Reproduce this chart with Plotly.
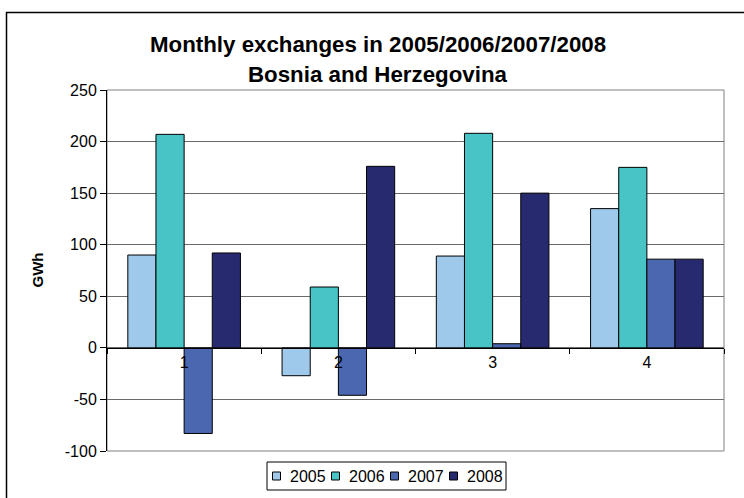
import plotly.graph_objects as go

# Monthly exchanges, GWh
months = ["1", "2", "3", "4"]
years = ["2005", "2006", "2007", "2008"]
v2005 = [90, -27, 89, 135]
v2006 = [207, 59, 208, 175]
v2007 = [-83, -46, 4, 86]
v2008 = [92, 176, 150, 86]
series = [v2005, v2006, v2007, v2008]
colors = ["#9FC9EB", "#48C3C6", "#4A67B0", "#282A70"]

y_ticks = [-100, -50, 0, 50, 100, 150, 200, 250]
y_ticktext = [str(v) for v in y_ticks]
y_min, y_max = -100, 250

title_1 = "Monthly exchanges in 2005/2006/2007/2008"
title_2 = "Bosnia and Herzegovina"
y_title = "GWh"

W, H = 744, 498
ml, mr, mt, mb = 107, 20, 90, 47
pw = W - ml - mr
ph = H - mt - mb
FONT = "Liberation Sans, Arial, sans-serif"


def px_x(x):
    """Pixel column -> paper x fraction."""
    return (x - ml) / pw


def px_y(y):
    """Pixel row -> paper y fraction."""
    return (H - mb - y) / ph


fig = go.Figure()
for name, vals, col in zip(years, series, colors):
    fig.add_trace(go.Bar(
        x=months, y=vals, name=name,
        marker=dict(color=col, line=dict(color="#000000", width=1)),
    ))

zero_pos = (0 - y_min) / (y_max - y_min)

annotations = [
    dict(text=f"<b>{title_1}</b>", xref="paper", yref="paper",
         x=px_x(378), y=px_y(44), xanchor="center", yanchor="middle",
         showarrow=False, font=dict(size=22.3)),
    dict(text=f"<b>{title_2}</b>", xref="paper", yref="paper",
         x=px_x(378), y=px_y(74), xanchor="center", yanchor="middle",
         showarrow=False, font=dict(size=22.3)),
    dict(text=f"<b>{y_title}</b>", xref="paper", yref="paper",
         x=px_x(37), y=0.5, xanchor="center", yanchor="middle",
         textangle=-90, showarrow=False, font=dict(size=15)),
]

shapes = [
    # plot area frame (top and right edges)
    dict(type="rect", xref="paper", yref="paper", x0=0, x1=1, y0=0, y1=1,
         line=dict(color="#808080", width=1), layer="below"),
    # outer chart border
    dict(type="rect", xref="paper", yref="paper",
         x0=px_x(6.5), x1=px_x(752), y0=px_y(520), y1=px_y(12.5),
         line=dict(color="#000000", width=1.5)),
    # legend box
    dict(type="rect", xref="paper", yref="paper",
         x0=px_x(267), x1=px_x(506), y0=px_y(490), y1=px_y(462),
         line=dict(color="#000000", width=1), fillcolor="white"),
]

# legend entries: swatch + label
leg_x0, leg_pitch, leg_y, sw = 276.5, 59, 476, 8
for i, (name, col) in enumerate(zip(years, colors)):
    cx = leg_x0 + i * leg_pitch
    shapes.append(dict(
        type="rect", xref="paper", yref="paper",
        x0=px_x(cx - sw / 2), x1=px_x(cx + sw / 2),
        y0=px_y(leg_y + sw / 2), y1=px_y(leg_y - sw / 2),
        line=dict(color="#000000", width=1), fillcolor=col))
    annotations.append(dict(
        text=name, xref="paper", yref="paper",
        x=px_x(cx + sw / 2 + 7), y=px_y(leg_y), xanchor="left",
        yanchor="middle", showarrow=False, font=dict(size=16)))

fig.update_layout(
    width=W, height=H,
    margin=dict(l=ml, r=mr, t=mt, b=mb, autoexpand=False),
    paper_bgcolor="white", plot_bgcolor="white",
    barmode="group", bargap=0.27, bargroupgap=0,
    font=dict(family=FONT, color="#000000"),
    showlegend=False,
    xaxis=dict(
        type="category", anchor="free", position=zero_pos,
        showline=True, linecolor="#000000", linewidth=1,
        ticks="outside", tickson="boundaries", ticklen=5,
        tickcolor="#000000", showgrid=False,
        tickfont=dict(size=16), range=[-0.5, 3.5],
    ),
    yaxis=dict(
        range=[y_min, y_max], tickvals=y_ticks, ticktext=y_ticktext,
        showline=True, linecolor="#000000", linewidth=1,
        ticks="outside", ticklen=6, tickcolor="#000000",
        showgrid=True, gridcolor="#6A6A6A", gridwidth=1,
        zeroline=False, tickfont=dict(size=16),
    ),
    annotations=annotations,
    shapes=shapes,
)

fig.write_html("out.html")
